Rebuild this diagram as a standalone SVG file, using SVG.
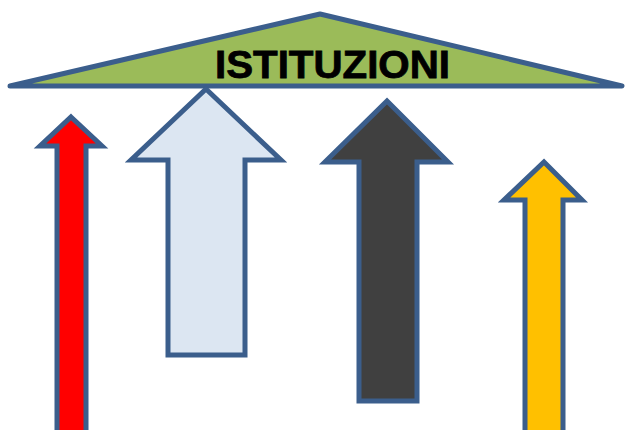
<svg xmlns="http://www.w3.org/2000/svg" width="625" height="430" viewBox="0 0 625 430">
  <style>
    .outline { stroke: #3b5e8c; stroke-width: 5; stroke-linejoin: miter; stroke-miterlimit: 10; }
    .roof { fill: #9bbb59; stroke: #3b5e8c; stroke-width: 5; stroke-linejoin: round; }
    .title { font-family: "Liberation Sans", Arial, sans-serif; font-weight: bold; font-size: 39px; fill: #000; stroke: #000; stroke-width: 0.8; }
  </style>
  <rect width="625" height="430" fill="#fff"/>

  <!-- roof -->
  <g id="istituzioni">
    <polygon class="roof" points="10,86 320,14 622,86"/>
    <text class="title" x="215" y="78" textLength="235" lengthAdjust="spacingAndGlyphs">ISTITUZIONI</text>
  </g>

  <!-- supporting arrows -->
  <g id="arrow-red">
    <polygon class="outline" fill="#ff0000" points="71,117 102,146 86,146 86,440 57,440 57,146 40,146"/>
  </g>
  <g id="arrow-lightblue">
    <polygon class="outline" fill="#dce6f2" points="206,89 281,160 245,160 245,355 168,355 168,160 131,160"/>
  </g>
  <g id="arrow-dark">
    <polygon class="outline" fill="#404040" points="387,101 448,162 417,162 417,401 359,401 359,162 325,162"/>
  </g>
  <g id="arrow-yellow">
    <polygon class="outline" fill="#ffc000" points="544,162 582,200 563,200 563,440 525,440 525,200 504,200"/>
  </g>
</svg>
